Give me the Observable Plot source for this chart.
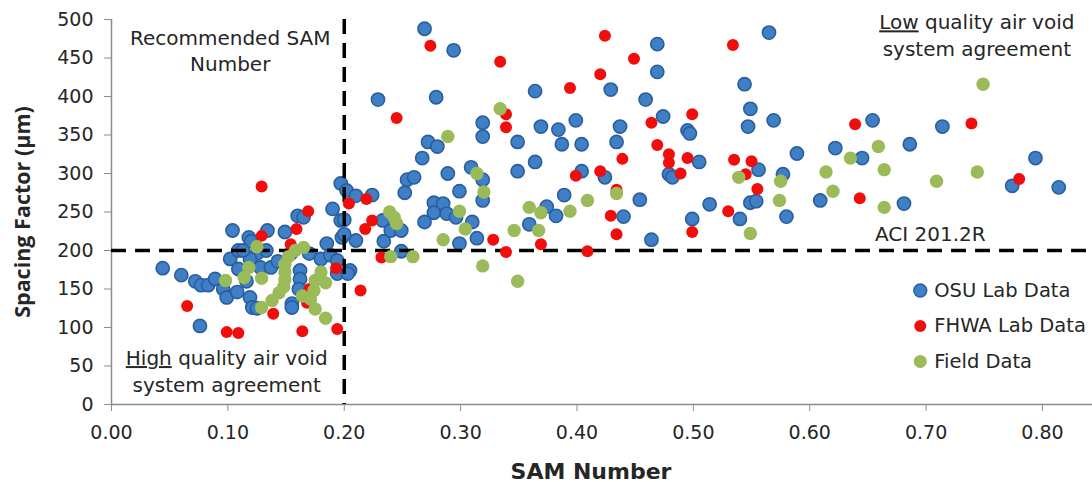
<!DOCTYPE html>
<html>
<head>
<meta charset="utf-8">
<script src="https://cdn.jsdelivr.net/npm/d3@7"></script>
<script src="https://cdn.jsdelivr.net/npm/@observablehq/plot@0.6"></script>
<style>
  html, body { margin: 0; padding: 0; background: #fff; }
  #chart { width: 1092px; height: 482px; }
</style>
</head>
<body>
<div id="chart"></div>
<script>
// ---------- data ----------
const xTicks = [0, 0.1, 0.2, 0.3, 0.4, 0.5, 0.6, 0.7, 0.8];
const yTicks = [0, 50, 100, 150, 200, 250, 300, 350, 400, 450, 500];

const seriesNames = ["OSU Lab Data", "FHWA Lab Data", "Field Data"];
const xLabel = "SAM Number";
const yLabel = "Spacing Factor (μm)";

// [SAM number, spacing factor (µm)]
const osuData = [
  [0.044,177],[0.060,168],[0.072,160],[0.077,155],[0.083,155],[0.089,163],[0.076,102],
  [0.104,226],[0.102,189],[0.109,200],[0.096,150],[0.099,139],[0.108,146],[0.109,176],
  [0.118,217],[0.120,212],[0.125,196],[0.119,189],[0.119,139],[0.121,126],[0.128,178],
  [0.134,226],[0.137,178],[0.149,224],[0.154,196],[0.155,131],[0.155,126],[0.160,245],
  [0.165,243],[0.162,174],[0.162,163],[0.161,150],[0.170,196],[0.190,254],[0.180,189],
  [0.185,209],[0.188,194],[0.194,187],[0.194,170],[0.197,239],[0.198,217],[0.197,287],
  [0.116,160],[0.125,125],[0.143,186],[0.133,200],[0.113,200],
  [0.202,278],[0.210,271],[0.210,213],[0.205,174],[0.203,170],[0.200,240],[0.200,221],
  [0.269,488],[0.294,460],[0.229,396],[0.279,399],[0.364,407],[0.469,468],[0.469,432],
  [0.429,409],[0.459,396],[0.474,374],[0.319,366],[0.319,348],[0.369,361],[0.384,357],
  [0.387,338],[0.399,369],[0.404,338],[0.437,361],[0.434,341],[0.495,356],[0.497,352],
  [0.505,315],[0.272,341],[0.280,335],[0.267,320],[0.349,341],[0.364,315],[0.349,303],
  [0.309,308],[0.289,300],[0.254,292],[0.260,295],[0.319,292],[0.252,275],[0.299,277],
  [0.319,265],[0.277,262],[0.285,261],[0.277,249],[0.288,248],[0.296,243],[0.310,237],
  [0.269,237],[0.314,216],[0.299,209],[0.249,199],[0.234,212],[0.240,226],[0.249,226],
  [0.224,272],[0.233,239],[0.389,272],[0.374,257],[0.382,245],[0.359,234],[0.404,303],
  [0.424,295],[0.454,266],[0.440,244],[0.464,214],[0.479,299],[0.482,295],[0.499,241],
  [0.514,260],[0.565,483],[0.544,416],[0.549,384],[0.547,361],[0.569,369],[0.556,305],
  [0.577,299],[0.589,326],[0.622,333],[0.645,320],[0.654,369],[0.686,338],[0.714,361],
  [0.794,320],[0.774,284],[0.814,282],[0.540,241],[0.549,262],[0.554,264],[0.580,244],
  [0.609,265],[0.681,261]
];

const fhwaData = [
  [0.065,128],[0.129,283],[0.169,251],[0.159,228],[0.129,219],[0.154,208],[0.193,177],
  [0.214,148],[0.170,150],[0.168,132],[0.139,118],[0.099,94],[0.109,93],[0.164,95],
  [0.194,98],[0.204,261],[0.219,267],[0.218,228],[0.224,239],[0.232,191],
  [0.274,466],[0.334,445],[0.245,372],[0.339,377],[0.339,360],[0.424,479],[0.420,429],
  [0.449,449],[0.394,411],[0.464,366],[0.469,337],[0.479,325],[0.479,314],[0.495,320],
  [0.499,377],[0.489,300],[0.439,319],[0.420,303],[0.399,297],[0.429,245],[0.434,221],
  [0.499,224],[0.328,214],[0.339,198],[0.369,208],[0.409,199],[0.434,279],
  [0.534,467],[0.535,318],[0.550,316],[0.545,299],[0.555,280],[0.530,251],[0.639,364],
  [0.643,268],[0.739,365],[0.780,293]
];

const fieldData = [
  [0.098,161],[0.114,165],[0.118,178],[0.125,205],[0.129,164],[0.129,126],[0.138,135],
  [0.144,145],[0.148,153],[0.149,162],[0.149,172],[0.149,182],[0.152,192],[0.158,200],
  [0.165,204],[0.164,141],[0.171,137],[0.175,124],[0.174,148],[0.180,172],[0.175,161],
  [0.184,158],[0.184,112],
  [0.334,384],[0.289,348],[0.314,300],[0.320,276],[0.239,250],[0.243,243],[0.245,235],
  [0.299,251],[0.304,228],[0.285,214],[0.240,192],[0.259,192],[0.319,180],[0.349,160],
  [0.346,226],[0.367,226],[0.359,256],[0.369,249],[0.394,251],[0.409,265],[0.434,274],
  [0.749,416],[0.539,295],[0.575,290],[0.574,265],[0.549,222],[0.614,302],[0.620,277],
  [0.635,320],[0.659,335],[0.664,305],[0.664,256],[0.709,290],[0.744,302]
];

const samThreshold = [0.2];
const aciThreshold = [200];

const annotations = [
  {text: "Recommended SAM\nNumber", sam: 0.102, sf: 461},
  {text: "High quality air void\nsystem agreement", sam: 0.099, sf: 45},
  {text: "Low quality air void\nsystem agreement", sam: 0.7436, sf: 481},
  {text: "ACI 201.2R", sam: 0.7036, sf: 223}
];

// ---------- styles ----------
const colors = {
  osuFill: "#3F7FC6", osuStroke: "#2A5E9F",
  fhwa: "#F20D0D",
  field: "#9BBB59"
};
const axisGray = "#8C8C8C";
const textColor = "#262626";
const font = "'DejaVu Sans', sans-serif";

const legendItems = seriesNames.map((name, i) => ({name, sam: 0.695, sf: 148 - i * 46}));

const dash = "15,9";

const chart = Plot.plot({
  width: 1092,
  height: 482,
  marginLeft: 111,
  marginRight: 0,
  marginTop: 19,
  marginBottom: 78,
  style: {fontFamily: font, fontSize: "19px", color: textColor, background: "#fff"},
  x: {domain: [0, 0.843]},
  y: {domain: [0, 500]},
  marks: [
    Plot.ruleY([0], {stroke: axisGray, strokeWidth: 1.5}),
    Plot.ruleX([0], {stroke: axisGray, strokeWidth: 1.5}),
    Plot.axisX({ticks: xTicks, tickFormat: d => d.toFixed(2), tickSize: 7, tickPadding: 14,
                stroke: axisGray, fill: textColor, label: null, fontSize: 19}),
    Plot.axisY({ticks: yTicks, tickSize: 7, tickPadding: 11,
                stroke: axisGray, fill: textColor, label: null, fontSize: 19}),
    Plot.dot(osuData, {x: d => d[0], y: d => d[1], r: 6.6, fill: colors.osuFill,
                       stroke: colors.osuStroke, strokeWidth: 1.6}),
    Plot.ruleX(samThreshold, {stroke: "#000", strokeWidth: 3.5, strokeDasharray: dash}),
    Plot.ruleY(aciThreshold, {stroke: "#000", strokeWidth: 3.5, strokeDasharray: dash}),
    Plot.dot(fhwaData, {x: d => d[0], y: d => d[1], r: 6, fill: colors.fhwa}),
    Plot.dot(fieldData, {x: d => d[0], y: d => d[1], r: 6.7, fill: colors.field}),
    Plot.text(annotations, {x: "sam", y: "sf", text: "text", fontSize: 20, lineHeight: 1.33,
                            fill: textColor, textAnchor: "middle"}),
    Plot.dot(legendItems.slice(0, 1), {x: "sam", y: "sf", r: 6.5, fill: colors.osuFill,
                                        stroke: colors.osuStroke, strokeWidth: 1.4}),
    Plot.dot(legendItems.slice(1, 2), {x: "sam", y: "sf", r: 6, fill: colors.fhwa}),
    Plot.dot(legendItems.slice(2, 3), {x: "sam", y: "sf", r: 6.5, fill: colors.field}),
    Plot.text(legendItems, {x: "sam", y: "sf", text: "name", textAnchor: "start", dx: 14,
                            fontSize: 19.5, fill: textColor}),
    Plot.text([xLabel], {frameAnchor: "bottom", dy: 74, fontWeight: "bold", fontSize: 22,
                         fill: textColor, dx: -11}),
    Plot.text([yLabel], {frameAnchor: "left", rotate: -90, dx: -88, textAnchor: "middle",
                         lineAnchor: "middle", fontWeight: "bold", fontSize: 21.5,
                         fontFamily: "'Open Sans', sans-serif", fill: textColor})
  ]
});

document.getElementById("chart").appendChild(chart);

// underline "High" and "Low"
d3.select(chart).selectAll("tspan").each(function () {
  const t = this.textContent;
  const m = /^(High|Low)( .*)$/.exec(t);
  if (m) {
    const sel = d3.select(this);
    sel.text(null);
    sel.append("tspan").style("text-decoration", "underline").text(m[1]);
    sel.append("tspan").text(m[2]);
  }
});
</script>
</body>
</html>
